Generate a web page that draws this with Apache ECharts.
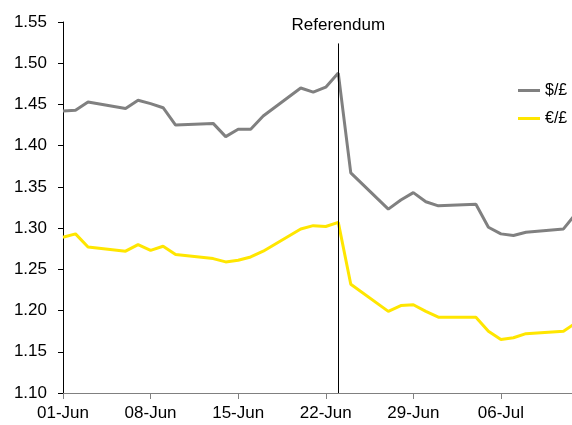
<!DOCTYPE html>
<html>
<head>
<meta charset="utf-8">
<script src="https://cdn.jsdelivr.net/npm/echarts@6/dist/echarts.min.js"></script>
<style>
  html, body { margin: 0; padding: 0; background: #fff; }
  #chart { width: 572px; height: 425px; }
</style>
</head>
<body>
<div id="chart"></div>
<script>
// Trading days, June-July 2016
const dates = [
  '2016-06-01','2016-06-02','2016-06-03','2016-06-06','2016-06-07','2016-06-08','2016-06-09','2016-06-10',
  '2016-06-13','2016-06-14','2016-06-15','2016-06-16','2016-06-17','2016-06-20','2016-06-21','2016-06-22',
  '2016-06-23','2016-06-24','2016-06-27','2016-06-28','2016-06-29','2016-06-30','2016-07-01','2016-07-04',
  '2016-07-05','2016-07-06','2016-07-07','2016-07-08','2016-07-11','2016-07-12'
];
// $/£
const usdGbp = [
  1.442, 1.443, 1.453, 1.445, 1.455, 1.451, 1.446, 1.425,
  1.427, 1.411, 1.420, 1.420, 1.436, 1.470, 1.465, 1.471,
  1.488, 1.367, 1.323, 1.334, 1.343, 1.332, 1.327, 1.329,
  1.301, 1.293, 1.291, 1.295, 1.299, 1.318
];
// €/£
const eurGbp = [
  1.289, 1.293, 1.277, 1.272, 1.280, 1.273, 1.278, 1.268,
  1.263, 1.259, 1.261, 1.265, 1.272, 1.299, 1.303, 1.302,
  1.307, 1.232, 1.199, 1.206, 1.207, 1.199, 1.192, 1.192,
  1.175, 1.165, 1.167, 1.172, 1.175, 1.185
];
const seriesNames = ['$/£', '€/£'];
const referendumDate = '2016-06-23';
const referendumLabel = 'Referendum';
const axisStart = '2016-06-01';
const axisEnd = '2016-07-12';
const monthNames = ['Jan','Feb','Mar','Apr','May','Jun','Jul','Aug','Sep','Oct','Nov','Dec'];

const DAY = 86400000;
const t0 = Date.parse(axisStart);
const dayIndex = s => Math.round((Date.parse(s) - t0) / DAY);
const fmtDay = v => {
  const d = new Date(t0 + v * DAY);
  const dd = String(d.getUTCDate()).padStart(2, '0');
  return dd + '-' + monthNames[d.getUTCMonth()];
};

const font = 'Liberation Sans, Arial, sans-serif';
const usdData = dates.map((d, i) => [dayIndex(d), usdGbp[i]]);
const eurData = dates.map((d, i) => [dayIndex(d), eurGbp[i]]);
const refX = dayIndex(referendumDate);

const chart = echarts.init(document.getElementById('chart'), null, { renderer: 'canvas' });
chart.setOption({
  animation: false,
  backgroundColor: '#fff',
  grid: { left: 63, top: 22, right: -4, bottom: 32, outerBoundsMode: 'none' },
  legend: {
    orient: 'vertical',
    left: 518,
    top: 81,
    padding: 0,
    itemGap: 9,
    itemWidth: 22,
    itemHeight: 3,
    icon: 'rect',
    textStyle: { fontFamily: font, fontSize: 16, color: '#000', lineHeight: 19 },
    data: seriesNames
  },
  xAxis: {
    type: 'value',
    min: 0,
    max: dayIndex(axisEnd),
    interval: 7,
    axisLine: { show: true, onZero: false, lineStyle: { color: '#808080', width: 1 } },
    axisTick: { show: true, length: 6, lineStyle: { color: '#808080' } },
    splitLine: { show: false },
    axisLabel: {
      margin: 12,
      showMaxLabel: false,
      fontFamily: font, fontSize: 17, color: '#000',
      formatter: v => fmtDay(v)
    }
  },
  yAxis: {
    type: 'value',
    min: 1.10,
    max: 1.55,
    interval: 0.05,
    axisLine: { show: true, lineStyle: { color: '#000', width: 1 } },
    axisTick: { show: true, length: 5, lineStyle: { color: '#000' } },
    splitLine: { show: false },
    axisLabel: {
      margin: 16,
      fontFamily: font, fontSize: 17, color: '#000',
      formatter: v => v.toFixed(2)
    }
  },
  series: [
    {
      name: seriesNames[0],
      type: 'line',
      data: usdData,
      symbol: 'none',
      lineStyle: { color: '#808080', width: 3 },
      itemStyle: { color: '#808080' },
      markLine: {
        silent: true,
        symbol: 'none',
        lineStyle: { color: '#000', width: 1, type: 'solid' },
        label: {
          show: true,
          position: 'end',
          distance: 10,
          formatter: referendumLabel,
          fontFamily: font, fontSize: 17, color: '#000'
        },
        data: [[{ coord: [refX, 1.10] }, { coord: [refX, 1.524] }]]
      }
    },
    {
      name: seriesNames[1],
      type: 'line',
      data: eurData,
      symbol: 'none',
      lineStyle: { color: '#FFE600', width: 3 },
      itemStyle: { color: '#FFE600' }
    }
  ]
});
</script>
</body>
</html>
